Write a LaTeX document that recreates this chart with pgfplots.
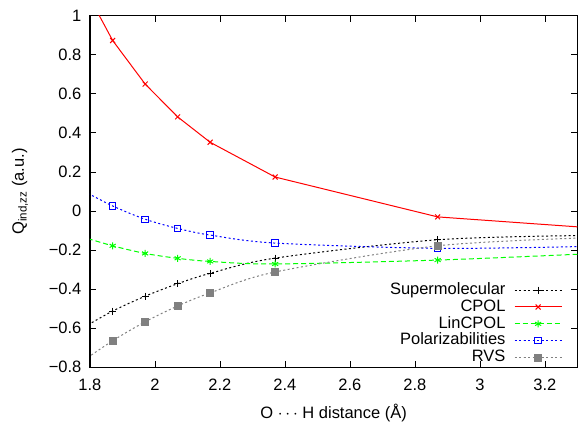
\documentclass[border=0pt]{standalone}
\usepackage{pgfplots}
\pgfplotsset{compat=1.18}
\usepackage{fontspec}
\setmainfont{Liberation Sans}
\definecolor{rvsgray}{RGB}{128,128,128}
\begin{document}
\begin{tikzpicture}[font=\fontsize{16.5bp}{19bp}\selectfont]
\begin{axis}[
  scale only axis, width=488bp, height=352bp,
  xmin=1.8, xmax=3.3, ymin=-0.8, ymax=1,
  xtick={1.8,2,2.2,2.4,2.6,2.8,3,3.2},
  xticklabels={1.8,2,2.2,2.4,2.6,2.8,3,3.2},
  ytick={-0.8,-0.6,-0.4,-0.2,0,0.2,0.4,0.6,0.8,1},
  yticklabels={−0.8,−0.6,−0.4,−0.2,0,0.2,0.4,0.6,0.8,1},
  xticklabel style={yshift=-8.5bp},
  yticklabel style={xshift=-5bp},
  major tick length=6bp,
  tick style={black, line width=0.8bp},
  axis line style={line width=1.2bp},
  clip marker paths=true,
  xlabel={O $\cdots$ H distance (Å)},
  ylabel={Q\textsubscript{ind,zz} (a.u.)},
  xlabel style={at={(axis description cs:0.5,-0.146)}, anchor=base},
  ylabel style={at={(axis description cs:-0.1434,0.5)}, anchor=center},
  legend cell align=right,
  legend plot pos=right,
  legend style={at={(rel axis cs:0.969,0.003)}, anchor=south east, draw=none, fill=none,
    inner sep=0pt, row sep=0pt, column sep=8bp,
    nodes={inner sep=0.7bp, text height=12bp, text depth=3.5bp}},
  legend image code/.code={\draw[mark repeat=2,mark phase=2,#1] plot coordinates {(0bp,0bp) (23.5bp,0bp) (47bp,0bp)};},
]
\addplot[black, line width=1bp, dash pattern=on 2bp off 2.5bp, smooth, mark=+, mark size=3.5bp,
  mark options={solid}] coordinates {
  (1.77,-0.606) (1.87,-0.512) (1.97,-0.436) (2.07,-0.372) (2.17,-0.319) (2.37,-0.241) (2.87,-0.147) (3.33,-0.125)};
\addlegendentry{Supermolecular}
\addplot[red, line width=1bp, mark=x, mark size=3.5bp,
  mark options={solid}] coordinates {
  (1.75,1.245) (1.87,0.873) (1.97,0.650) (2.07,0.482) (2.17,0.352) (2.37,0.174) (2.87,-0.030) (3.36,-0.088)};
\addlegendentry{CPOL}
\addplot[green, line width=1bp, dash pattern=on 5bp off 3bp, smooth, mark=asterisk, mark size=3.5bp,
  mark options={solid}] coordinates {
  (1.77,-0.129) (1.87,-0.178) (1.97,-0.217) (2.07,-0.242) (2.17,-0.258) (2.37,-0.271) (2.87,-0.251) (3.33,-0.219)};
\addlegendentry{LinCPOL}
\addplot[blue, line width=1bp, dash pattern=on 2bp off 2.5bp, smooth, mark=square, mark size=3.2bp,
  mark options={solid}] coordinates {
  (1.77,0.112) (1.87,0.026) (1.97,-0.042) (2.07,-0.089) (2.17,-0.123) (2.37,-0.164) (2.87,-0.191) (3.33,-0.181)};
\addlegendentry{Polarizabilities}
\addplot[rvsgray, line width=1bp, dash pattern=on 2bp off 2.5bp, smooth, mark=square*, mark size=3.5bp,
  mark options={solid}] coordinates {
  (1.77,-0.777) (1.87,-0.664) (1.97,-0.567) (2.07,-0.486) (2.17,-0.419) (2.37,-0.312) (2.87,-0.178) (3.33,-0.137)};
\addlegendentry{RVS}
\path (rel axis cs:0,0) coordinate (ll);
\path (rel axis cs:1,1) coordinate (ur);
\end{axis}
\pgfresetboundingbox
\path[use as bounding box] ([xshift=-90bp,yshift=-55.3bp]ll) rectangle ([xshift=0.6bp,yshift=15.7bp]ur);
\end{tikzpicture}
\end{document}
